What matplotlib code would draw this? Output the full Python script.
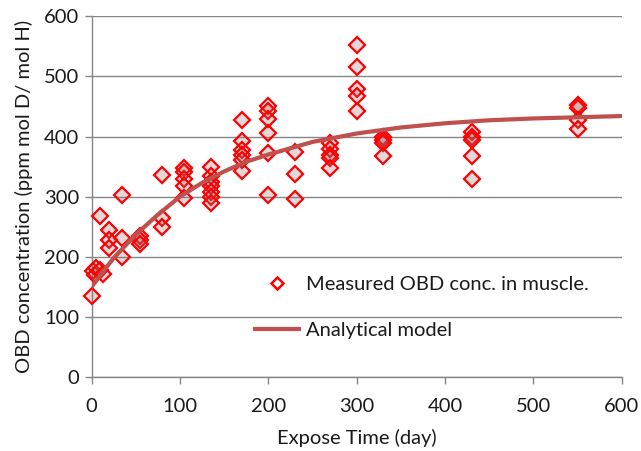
import numpy as np
import matplotlib.pyplot as plt
from matplotlib.lines import Line2D

# ---------- data ----------
# measured OBD concentration (ppm mol D / mol H) vs expose time (day)
meas_day = [0, 2, 4, 5, 9, 13, 10,
            20, 20, 20, 34, 34, 34, 55, 55, 55, 80, 80, 80,
            105, 105, 105, 105, 105,
            135, 135, 135, 135, 135, 135, 135,
            170, 170, 170, 170, 170, 170,
            200, 200, 200, 200, 200, 200,
            230, 230, 230,
            270, 270, 270, 270, 270,
            300, 300, 300, 300, 300,
            330, 330, 330, 330,
            430, 430, 430, 430, 430,
            550, 550, 550, 550]
meas_obd = [135, 177, 170, 181, 178, 171, 268,
            245, 228, 214, 303, 231, 200, 234, 228, 222, 336, 264, 250,
            347, 341, 329, 317, 297,
            350, 334, 325, 317, 308, 300, 290,
            428, 392, 378, 369, 361, 342,
            450, 443, 429, 406, 372, 303,
            375, 337, 296,
            389, 380, 370, 364, 347,
            552, 515, 479, 467, 442,
            399, 394, 390, 367,
            408, 400, 395, 368, 329,
            453, 447, 428, 413]

# analytical model curve, read at these days
model_day = [0, 10, 25, 50, 75, 100, 125, 150, 175, 200, 250, 300, 350, 400, 450, 500, 550, 600]
model_obd = [150, 170, 198, 237, 270, 300, 323, 342, 358, 370, 391, 405, 415, 422, 427, 430, 432, 434]

x_ticks = [0, 100, 200, 300, 400, 500, 600]
y_ticks = [0, 100, 200, 300, 400, 500, 600]

plt.rcParams['font.family'] = ['Lato', 'DejaVu Sans']

grey = '#868686'
txt = '#1a1a1a'
fill = (0.6, 0.4, 0.42, 0.26)
fs = 14.5

fig = plt.figure(figsize=(6.41, 4.51), dpi=100)
ax = fig.add_axes([0.143, 0.164, 0.827, 0.8])

ax.plot(meas_day, meas_obd, linestyle='none', marker='D', markersize=8.5,
        markerfacecolor=fill, markeredgecolor='#ff0000', markeredgewidth=1.6,
        zorder=3, clip_on=False)
ax.plot(model_day, model_obd, color='#c0504d', linewidth=3, solid_capstyle='round', zorder=4)

ax.set_xlim(0, 600)
ax.set_ylim(0, 600)
ax.set_xticks(x_ticks)
ax.set_yticks(y_ticks)
ax.grid(axis='y', color=grey, linewidth=1.0)
ax.set_axisbelow(True)

for s in ['top', 'right']:
    ax.spines[s].set_visible(False)
for s in ['left', 'bottom']:
    ax.spines[s].set_color(grey)
    ax.spines[s].set_linewidth(1.0)
ax.tick_params(axis='both', colors=grey, length=5, width=1.0, labelsize=fs,
               labelcolor=txt)
ax.tick_params(axis='x', pad=10)
ax.tick_params(axis='y', pad=4)

ax.set_xlabel('Expose Time (day)', fontsize=fs, color=txt, labelpad=10)
ax.set_ylabel('OBD concentration (ppm mol D/ mol H)', fontsize=fs, color=txt, labelpad=8)

handles = [
    Line2D([], [], linestyle='none', marker='D', markersize=6,
           markerfacecolor='white', markeredgecolor='#ff0000', markeredgewidth=1.8),
    Line2D([], [], color='#c0504d', linewidth=3),
]
labels = ['Measured OBD conc. in muscle.', 'Analytical model']
ax.legend(handles, labels, loc='upper left', bbox_to_anchor=(0.308, 0.28),
          frameon=False, fontsize=fs, labelspacing=1.45, handlelength=2.2,
          handletextpad=0.35, borderpad=0, borderaxespad=0, labelcolor=txt)

fig.savefig('out.png', dpi=100)
